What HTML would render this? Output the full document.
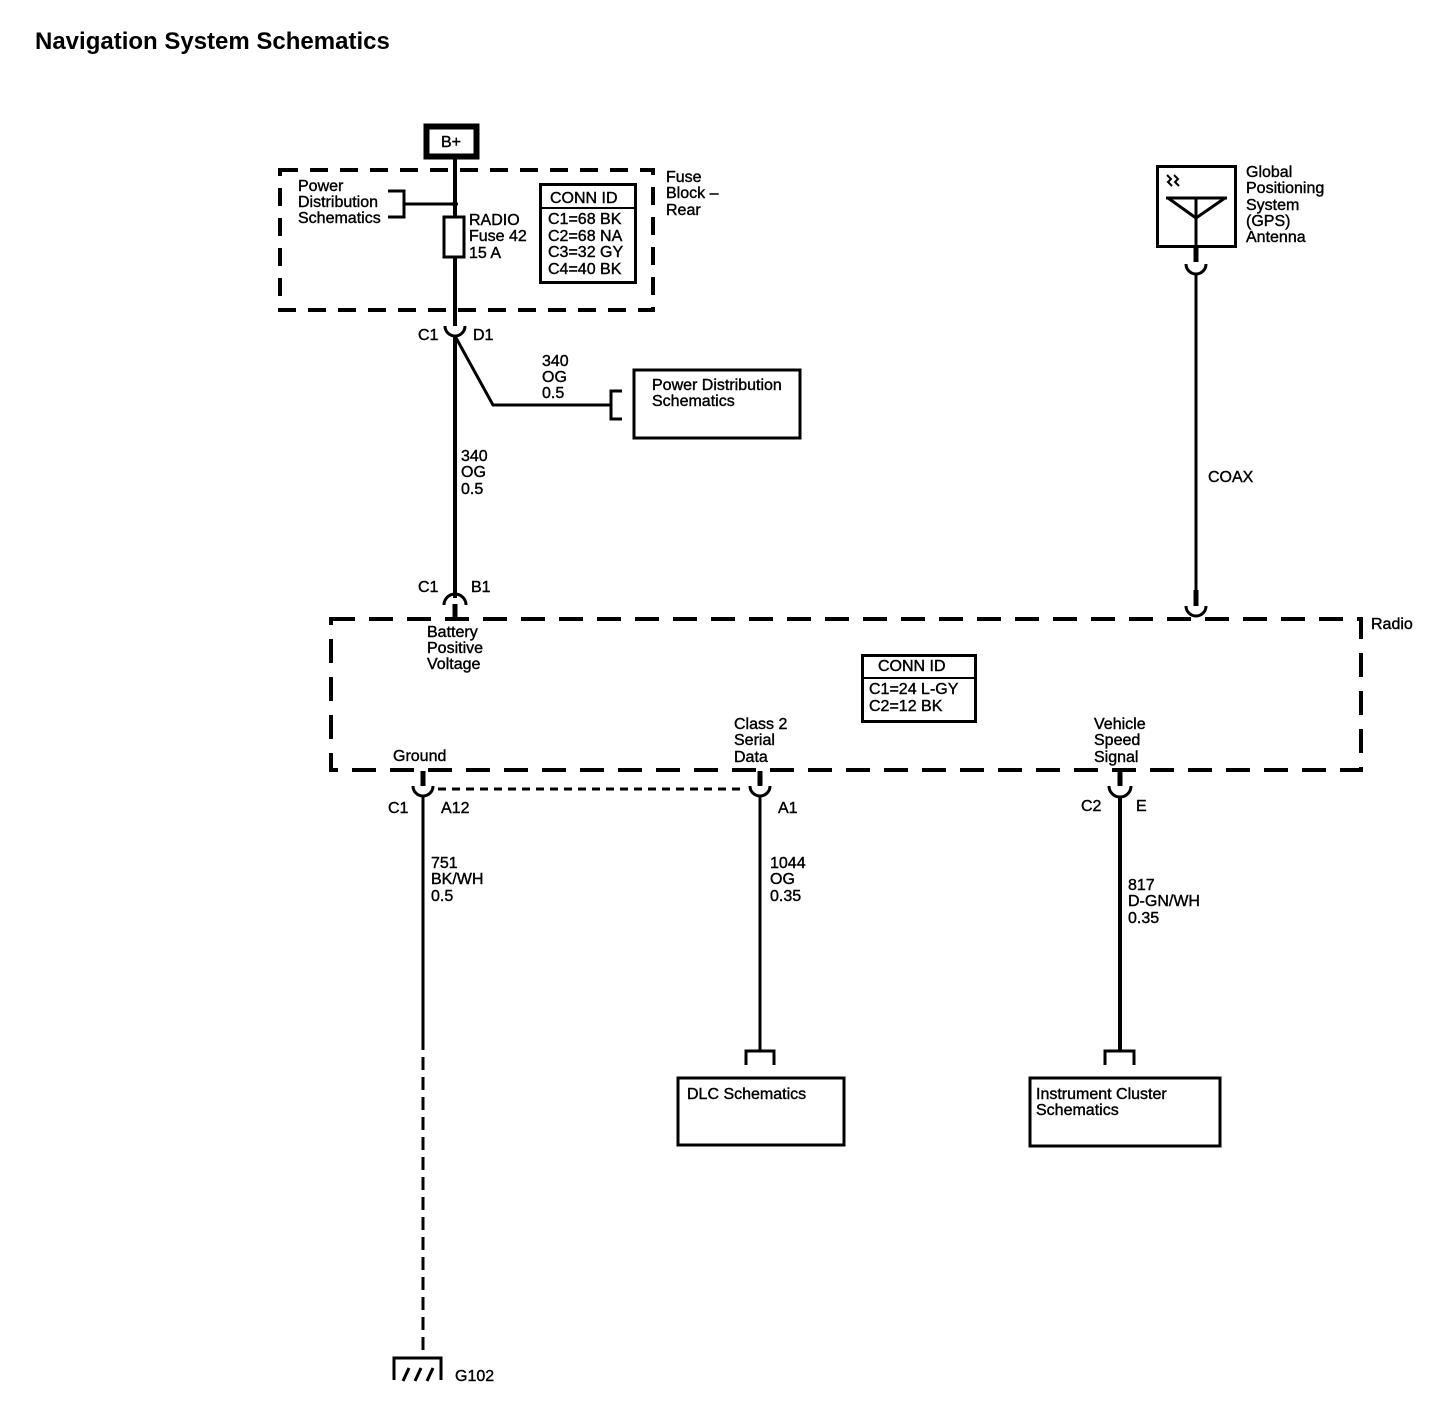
<!DOCTYPE html>
<html><head><meta charset="utf-8"><style>
html,body{margin:0;padding:0;background:#fff;}
svg text{font-family:"Liberation Sans",Arial,sans-serif;font-size:16px;fill:#000;stroke:#000;stroke-width:0.4px;}
</style></head><body>
<svg width="1448" height="1408" viewBox="0 0 1448 1408" xmlns="http://www.w3.org/2000/svg">
<text x="35" y="49" style="font-size:24px;font-weight:bold;stroke-width:0">Navigation System Schematics</text>

<g fill="none" stroke="#000">
<rect x="426.5" y="126.5" width="50" height="30" stroke-width="6"/>
<rect x="280" y="170" width="373" height="140" stroke-width="4" stroke-dasharray="18 12"/>
<line x1="455" y1="159" x2="455" y2="216" stroke-width="4"/>
<line x1="455" y1="258" x2="455" y2="326" stroke-width="4"/>
<rect x="444" y="217" width="20" height="40" stroke-width="3"/>
<line x1="405" y1="204" x2="455" y2="204" stroke-width="3"/>
<polyline points="388,191 404,191 404,217 388,217" stroke-width="3"/>
<rect x="540.5" y="184.5" width="95" height="98" stroke-width="3"/>
<line x1="540" y1="208" x2="636" y2="208" stroke-width="2"/>
<path d="M445 326 A10 10 0 0 0 465 326" stroke-width="3"/>
<line x1="455" y1="336" x2="455" y2="598" stroke-width="4"/>
<polyline points="455,336 493,405 611,405" stroke-width="3"/>
<polyline points="622,391 611,391 611,419 622,419" stroke-width="3"/>
<rect x="634" y="370" width="166" height="68" stroke-width="3"/>
<path d="M444 605 A11 11 0 0 1 466 605" stroke-width="3"/>
<line x1="455" y1="604" x2="455" y2="618" stroke-width="5"/>
<rect x="331" y="619" width="1030" height="151" stroke-width="4" stroke-dasharray="24 14"/>
<rect x="862.5" y="655.5" width="113" height="66" stroke-width="3"/>
<line x1="862" y1="678" x2="976" y2="678" stroke-width="2"/>
<line x1="423" y1="771" x2="423" y2="786" stroke-width="5"/>
<path d="M413 786 A10 10 0 0 0 433 786" stroke-width="3"/>
<line x1="423" y1="796" x2="423" y2="1050" stroke-width="3"/>
<line x1="423" y1="1057" x2="423" y2="1358" stroke-width="3" stroke-dasharray="13 7"/>
<line x1="438" y1="789" x2="745" y2="789" stroke-width="3" stroke-dasharray="8 6"/>
<polyline points="394,1380 394,1358 441,1358 441,1380" stroke-width="3"/>
<line x1="403" y1="1381" x2="409" y2="1368" stroke-width="3"/>
<line x1="415" y1="1381" x2="421" y2="1368" stroke-width="3"/>
<line x1="427" y1="1381" x2="433" y2="1368" stroke-width="3"/>
<line x1="760" y1="771" x2="760" y2="786" stroke-width="5"/>
<path d="M750 786 A10 10 0 0 0 770 786" stroke-width="3"/>
<line x1="760" y1="796" x2="760" y2="1051" stroke-width="3"/>
<polyline points="746,1065 746,1051 774,1051 774,1065" stroke-width="3"/>
<rect x="678" y="1078" width="166" height="67" stroke-width="3"/>
<line x1="1120" y1="771" x2="1120" y2="786" stroke-width="5"/>
<path d="M1109 786 A11 11 0 0 0 1131 786" stroke-width="3"/>
<line x1="1120" y1="796" x2="1120" y2="1051" stroke-width="4"/>
<polyline points="1105,1065 1105,1051 1134,1051 1134,1065" stroke-width="3"/>
<rect x="1030" y="1078" width="190" height="68" stroke-width="3"/>
<rect x="1157.5" y="166.5" width="78" height="80" stroke-width="3"/>
<line x1="1196" y1="199" x2="1196" y2="258" stroke-width="3"/>
<polyline points="1168,198 1196,218 1225,198" stroke-width="3"/>
<line x1="1166" y1="198" x2="1227" y2="198" stroke-width="3"/>
<path d="M1167 175 l4 4 l-3 3 l4 4 M1174 175 l4 4 l-3 3 l4 4" stroke-width="2"/>
<line x1="1196" y1="246" x2="1196" y2="262" stroke-width="5"/>
<path d="M1186 264 A10 10 0 0 0 1206 264" stroke-width="3"/>
<line x1="1196" y1="274" x2="1196" y2="604" stroke-width="3"/>
<line x1="1196" y1="590" x2="1196" y2="606" stroke-width="5"/>
<path d="M1186 606 A10 10 0 0 0 1206 606" stroke-width="3"/>
</g>
<circle cx="455" cy="204" r="3"/>

<text x="441" y="147">B+</text>
<text x="298" y="191">Power</text><text x="298" y="207">Distribution</text><text x="298" y="223">Schematics</text>
<text x="469" y="225">RADIO</text><text x="469" y="241">Fuse 42</text><text x="469" y="258">15 A</text>
<text x="550" y="203">CONN ID</text>
<text x="548" y="224">C1=68 BK</text><text x="548" y="241">C2=68 NA</text><text x="548" y="257">C3=32 GY</text><text x="548" y="274">C4=40 BK</text>
<text x="666" y="182">Fuse</text><text x="666" y="198">Block –</text><text x="666" y="215">Rear</text>
<text x="418" y="340">C1</text><text x="473" y="340">D1</text>
<text x="542" y="366">340</text><text x="542" y="382">OG</text><text x="542" y="398">0.5</text>
<text x="652" y="390">Power Distribution</text><text x="652" y="406">Schematics</text>
<text x="461" y="461">340</text><text x="461" y="477">OG</text><text x="461" y="494">0.5</text>
<text x="1208" y="482">COAX</text>
<text x="418" y="592">C1</text><text x="471" y="592">B1</text>
<text x="1371" y="629">Radio</text>
<text x="427" y="637">Battery</text><text x="427" y="653">Positive</text><text x="427" y="669">Voltage</text>
<text x="878" y="671">CONN ID</text>
<text x="869" y="694">C1=24 L-GY</text><text x="869" y="711">C2=12 BK</text>
<text x="734" y="729">Class 2</text><text x="734" y="745">Serial</text><text x="734" y="762">Data</text>
<text x="1094" y="729">Vehicle</text><text x="1094" y="745">Speed</text><text x="1094" y="762">Signal</text>
<text x="393" y="761">Ground</text>
<text x="388" y="813">C1</text><text x="441" y="813">A12</text>
<text x="778" y="813">A1</text>
<text x="1081" y="811">C2</text><text x="1136" y="811">E</text>
<text x="431" y="868">751</text><text x="431" y="884">BK/WH</text><text x="431" y="901">0.5</text>
<text x="770" y="868">1044</text><text x="770" y="884">OG</text><text x="770" y="901">0.35</text>
<text x="1128" y="890">817</text><text x="1128" y="906">D-GN/WH</text><text x="1128" y="923">0.35</text>
<text x="687" y="1099">DLC Schematics</text>
<text x="1036" y="1099">Instrument Cluster</text><text x="1036" y="1115">Schematics</text>
<text x="455" y="1381">G102</text>
<text x="1246" y="177">Global</text><text x="1246" y="193">Positioning</text><text x="1246" y="210">System</text><text x="1246" y="226">(GPS)</text><text x="1246" y="242">Antenna</text>
</svg>
</body></html>
